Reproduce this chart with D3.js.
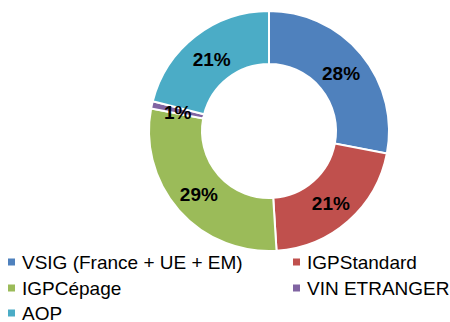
<!DOCTYPE html>
<html>
<head>
<meta charset="utf-8">
<script src="https://cdn.jsdelivr.net/npm/d3@7"></script>
<style>
  html, body { margin: 0; padding: 0; background: #fff; }
  svg { display: block; }
</style>
</head>
<body>
<svg id="chart" width="450" height="322"></svg>
<script>
// Wine categories and their shares (%)
const categories = ["VSIG (France + UE + EM)", "IGPStandard", "IGPCépage", "VIN ETRANGER", "AOP"];
const shares = [28, 21, 29, 1, 21];
const colors = ["#4F81BD", "#C0504D", "#9BBB59", "#8064A2", "#4BACC6"];

const svg = d3.select("#chart");
const cx = 269, cy = 131;
const outerR = 120, innerR = 67;

const data = categories.map((c, i) => ({ name: c, value: shares[i], color: colors[i] }));

const pie = d3.pie().value(d => d.value).sort(null);
const arc = d3.arc().innerRadius(innerR).outerRadius(outerR);
const labelArc = d3.arc().innerRadius((innerR + outerR) / 2).outerRadius((innerR + outerR) / 2);

const g = svg.append("g").attr("transform", `translate(${cx},${cy})`);
const arcs = pie(data);

g.selectAll("path.slice")
  .data(arcs)
  .join("path")
  .attr("class", "slice")
  .attr("d", arc)
  .attr("fill", d => d.data.color)
  .attr("stroke", "#fff")
  .attr("stroke-width", 2);

g.selectAll("text.val")
  .data(arcs)
  .join("text")
  .attr("class", "val")
  .attr("transform", d => {
    const [x, y] = labelArc.centroid(d);
    return `translate(${x},${y + 2})`;
  })
  .attr("text-anchor", "middle")
  .attr("dominant-baseline", "central")
  .attr("font-family", "'Liberation Sans', Arial, sans-serif")
  .attr("font-weight", "bold")
  .attr("font-size", 19)
  .attr("fill", "#000")
  .text(d => d.data.value + "%");

// Legend: two columns, filled row by row
const legendX = [8, 293];
const rowY = [262, 288, 313];
const legend = svg.append("g");
data.forEach((d, i) => {
  const col = i % 2, row = Math.floor(i / 2);
  const item = legend.append("g").attr("transform", `translate(${legendX[col]},${rowY[row]})`);
  item.append("rect")
    .attr("x", 0).attr("y", -3.5)
    .attr("width", 7).attr("height", 7)
    .attr("fill", d.color);
  item.append("text")
    .attr("x", 14).attr("y", 0)
    .attr("dominant-baseline", "central")
    .attr("font-family", "'Liberation Sans', Arial, sans-serif")
    .attr("font-size", 19)
    .attr("fill", "#000")
    .text(d.name);
});
</script>
</body>
</html>
